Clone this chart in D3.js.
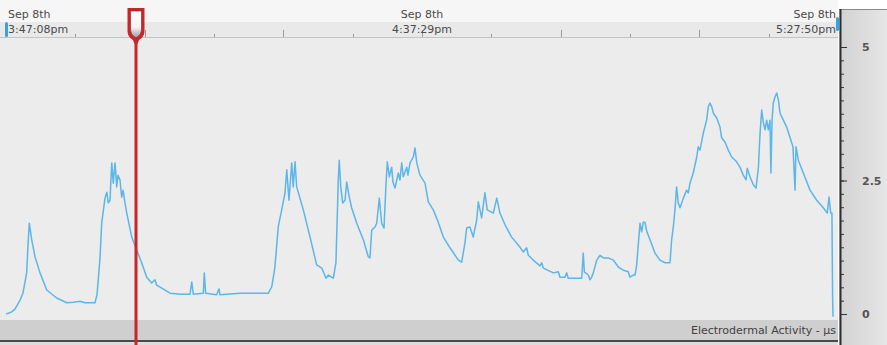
<!DOCTYPE html>
<html>
<head>
<meta charset="utf-8">
<script src="https://cdn.jsdelivr.net/npm/d3@7"></script>
<style>
  html, body { margin: 0; padding: 0; background: #ffffff; }
  svg { display: block; font-family: "DejaVu Sans", Verdana, sans-serif; }
</style>
</head>
<body>
<svg id="chart" width="887" height="345"></svg>
<script>
// Session window (Sep 8th, 3:47:08pm to 5:27:50pm)
const sessionStart = new Date(2014, 8, 8, 15, 47, 8);
const sessionEnd = new Date(2014, 8, 8, 17, 27, 50);

// Electrodermal activity samples: seconds since session start, and value in µS
const elapsedSec = [
  0, 22, 41, 65, 87, 102, 123, 150, 160, 169, 187, 211, 247, 296, 368, 441, 487, 537, 574, 610,
  646, 661, 670, 683, 695, 719, 732, 743, 755, 768, 779, 792, 804, 813, 828, 840, 850, 864, 877, 913,
  949, 985, 1022, 1058, 1082, 1094, 1140, 1191, 1264, 1336, 1349, 1360, 1433, 1440, 1450, 1530, 1547, 1554, 1699, 1808,
  1905, 1930, 1953, 1977, 2002, 2026, 2039, 2055, 2075, 2086, 2099, 2111, 2159, 2208, 2256, 2293, 2324, 2341, 2377, 2396,
  2407, 2413, 2420, 2431, 2445, 2462, 2474, 2493, 2510, 2547, 2595, 2631, 2643, 2656, 2680, 2692, 2711, 2728, 2745, 2760,
  2769, 2784, 2801, 2810, 2825, 2849, 2861, 2874, 2885, 2910, 2919, 2934, 2958, 2970, 2983, 3006, 3043, 3067, 3103, 3139,
  3176, 3224, 3285, 3309, 3333, 3345, 3369, 3393, 3418, 3430, 3454, 3478, 3495, 3539, 3564, 3587, 3624, 3672, 3733, 3757,
  3781, 3793, 3829, 3878, 3890, 3902, 3975, 4011, 4023, 4059, 4072, 4083, 4181, 4192, 4200, 4229, 4241, 4253, 4265, 4290,
  4314, 4338, 4374, 4410, 4447, 4483, 4519, 4531, 4555, 4568, 4580, 4604, 4616, 4628, 4640, 4653, 4677, 4713, 4749, 4786,
  4822, 4834, 4846, 4858, 4870, 4882, 4895, 4919, 4943, 4955, 4967, 4991, 5016, 5027, 5040, 5064, 5088, 5100, 5112, 5125,
  5137, 5161, 5185, 5197, 5221, 5245, 5270, 5306, 5330, 5354, 5374, 5383, 5403, 5427, 5447, 5464, 5476, 5488, 5500, 5512,
  5524, 5536, 5548, 5555, 5563, 5572, 5584, 5597, 5609, 5621, 5645, 5669, 5693, 5715, 5730, 5737, 5754, 5790, 5839, 5887,
  5935, 5964, 5977, 5989, 5998, 6003, 6006
];
const edaValues = [
  0.00, 0.02, 0.04, 0.09, 0.19, 0.26, 0.39, 0.77, 1.29, 1.70, 1.39, 1.07, 0.77, 0.45, 0.30, 0.21, 0.22, 0.24, 0.21, 0.21,
  0.21, 0.36, 0.64, 1.07, 1.70, 2.17, 2.28, 2.08, 2.13, 2.83, 2.45, 2.83, 2.38, 2.60, 2.51, 2.19, 2.32, 2.08, 1.89, 1.44,
  1.20, 0.96, 0.69, 0.58, 0.64, 0.54, 0.47, 0.39, 0.37, 0.37, 0.60, 0.37, 0.39, 0.77, 0.39, 0.36, 0.47, 0.36, 0.39, 0.39,
  0.39, 0.51, 0.88, 1.63, 1.95, 2.27, 2.70, 2.13, 2.83, 2.38, 2.85, 2.38, 1.95, 1.44, 0.92, 0.86, 0.67, 0.73, 0.67, 0.96,
  1.95, 2.51, 2.88, 2.38, 2.08, 2.13, 2.47, 2.19, 1.99, 1.70, 1.39, 1.07, 1.05, 1.57, 1.63, 1.70, 2.17, 1.70, 1.61, 2.45,
  2.85, 2.57, 2.75, 2.47, 2.36, 2.64, 2.51, 2.83, 2.57, 2.75, 2.60, 2.83, 2.94, 3.11, 2.83, 2.60, 2.45, 2.10, 1.95, 1.72,
  1.44, 1.24, 1.01, 0.97, 1.33, 1.61, 1.63, 1.44, 1.76, 2.10, 1.80, 2.27, 1.95, 1.89, 2.17, 1.89, 1.67, 1.44, 1.25, 1.16,
  1.24, 1.10, 1.01, 0.90, 0.96, 0.86, 0.77, 0.79, 0.69, 0.69, 0.77, 0.67, 0.67, 1.14, 0.79, 0.73, 0.64, 0.69, 0.77, 1.01,
  1.10, 1.05, 1.05, 1.01, 0.88, 0.82, 0.79, 0.69, 0.73, 0.73, 0.92, 1.70, 1.54, 1.72, 1.72, 1.55, 1.39, 1.14, 1.01, 0.96,
  0.96, 1.39, 1.63, 1.95, 2.38, 2.08, 1.99, 2.17, 2.32, 2.27, 2.45, 2.64, 2.94, 3.13, 3.07, 3.39, 3.63, 3.88, 3.95, 3.88,
  3.76, 3.67, 3.50, 3.30, 3.22, 3.07, 2.94, 2.85, 2.75, 2.60, 2.51, 2.73, 2.57, 2.42, 2.36, 2.75, 3.39, 3.82, 3.58, 3.45,
  3.63, 3.45, 3.63, 2.64, 3.63, 3.95, 4.06, 4.14, 4.01, 3.76, 3.63, 3.50, 3.31, 3.13, 2.32, 3.13, 2.88, 2.64, 2.32, 2.13,
  1.99, 1.89, 2.19, 1.89, 1.89, 0.26, -0.05
];

// Value axis labels and playhead position
const yMajorTicks = [0, 2.5, 5];
const seriesLabel = "Electrodermal Activity - \u03bcs";
const playheadSec = 944;

const svg = d3.select("#chart");
const W = 887, H = 345;
const plotLeft = 6, plotRight = 838, plotTop = 38, plotBottom = 320;

const x = d3.scaleTime().domain([sessionStart, sessionEnd]).range([plotLeft, plotRight]);
const y = d3.scaleLinear().domain([0, 5]).range([314, 47]);
const atSec = s => new Date(sessionStart.getTime() + s * 1000);

const defs = svg.append("defs");
const panelGrad = defs.append("linearGradient").attr("id", "panelGrad").attr("x1", 0).attr("x2", 1);
panelGrad.append("stop").attr("offset", 0).attr("stop-color", "#d2d2d2");
panelGrad.append("stop").attr("offset", 1).attr("stop-color", "#e6e6e6");
const knobGrad = defs.append("linearGradient").attr("id", "knobGrad").attr("x1", 0).attr("x2", 0).attr("y1", 0).attr("y2", 1);
knobGrad.append("stop").attr("offset", 0).attr("stop-color", "#ffffff");
knobGrad.append("stop").attr("offset", 0.6).attr("stop-color", "#f4f4f4");
knobGrad.append("stop").attr("offset", 1).attr("stop-color", "#9a9a9a");
defs.append("clipPath").attr("id", "plotClip").append("rect")
  .attr("x", plotLeft).attr("y", plotTop).attr("width", plotRight - plotLeft).attr("height", plotBottom - plotTop);

// Background blocks: header, time ruler, plot, footer
svg.append("rect").attr("x", 0).attr("y", 0).attr("width", W).attr("height", H).attr("fill", "#ffffff");
svg.append("rect").attr("x", 0).attr("y", 0).attr("width", plotRight).attr("height", 22).attr("fill", "#f6f6f6");
svg.append("rect").attr("x", 0).attr("y", 22).attr("width", plotRight).attr("height", 16).attr("fill", "#e9e9e9");
svg.append("rect").attr("x", 0).attr("y", plotTop).attr("width", plotRight).attr("height", plotBottom - plotTop).attr("fill", "#ececec");
svg.append("line").attr("x1", 0).attr("x2", plotRight).attr("y1", 37.5).attr("y2", 37.5).attr("stroke", "#c4c4c4");
svg.append("rect").attr("x", 0).attr("y", plotBottom).attr("width", plotRight).attr("height", 20).attr("fill", "#cfcfcf");
svg.append("rect").attr("x", 0).attr("y", 340).attr("width", plotRight).attr("height", 2).attr("fill", "#4a4a4a");
svg.append("rect").attr("x", 0).attr("y", 342).attr("width", plotRight).attr("height", 3).attr("fill", "#dcdcdc");

// Time ruler ticks
const step = (sessionEnd - sessionStart) / 12;
const rulerTicks = d3.range(1, 12).map(i => ({ i, t: new Date(sessionStart.getTime() + i * step) }));
svg.append("g").selectAll("line").data(rulerTicks).join("line")
  .attr("x1", d => Math.round(x(d.t)) + 0.5).attr("x2", d => Math.round(x(d.t)) + 0.5)
  .attr("y1", 37).attr("y2", d => d.i % 2 === 0 ? 30 : 34)
  .attr("stroke", "#9a9a9a").attr("stroke-width", 1);

// Time labels
const fmtDay = d3.timeFormat("%b %-dth");
const fmtTime = d => d3.timeFormat("%-I:%M:%S%p")(d).toLowerCase();
const midTime = new Date((sessionStart.getTime() + sessionEnd.getTime()) / 2);
const timeLabels = [
  { t: sessionStart, anchor: "start", dx: 2 },
  { t: midTime, anchor: "middle", dx: 0 },
  { t: sessionEnd, anchor: "end", dx: -2 }
];
const tl = svg.append("g").attr("fill", "#4a4a4a").attr("font-size", 11);
timeLabels.forEach(d => {
  tl.append("text").attr("x", x(d.t) + d.dx).attr("y", 18).attr("text-anchor", d.anchor).text(fmtDay(d.t));
  tl.append("text").attr("x", x(d.t) + d.dx).attr("y", 33).attr("text-anchor", d.anchor).text(fmtTime(d.t));
});

// Range handles at both ends of the ruler
svg.append("rect").attr("x", 5).attr("y", 22).attr("width", 3).attr("height", 15).attr("rx", 1.5).attr("fill", "#39a2e3");
svg.append("rect").attr("x", 836).attr("y", 17).attr("width", 3).attr("height", 14).attr("rx", 1.5).attr("fill", "#39a2e3");

// EDA trace
const pts = elapsedSec.map((s, i) => [atSec(s), edaValues[i]]);
svg.append("path").datum(pts)
  .attr("clip-path", "url(#plotClip)")
  .attr("fill", "none").attr("stroke", "#5cb6e8").attr("stroke-width", 1.5).attr("stroke-linejoin", "round")
  .attr("d", d3.line().x(d => x(d[0])).y(d => y(d[1])));

// Footer series label
svg.append("text").attr("x", plotRight - 2).attr("y", 334).attr("text-anchor", "end")
  .attr("font-size", 11).attr("fill", "#3f3f3f").text(seriesLabel);

// Right value panel
svg.append("rect").attr("x", 839).attr("y", 9).attr("width", W - 839).attr("height", H - 9).attr("fill", "url(#panelGrad)");
svg.append("line").attr("x1", 839).attr("x2", W).attr("y1", 9.5).attr("y2", 9.5).attr("stroke", "#8a8a8a");
svg.append("line").attr("x1", 840.5).attr("x2", 840.5).attr("y1", 9).attr("y2", H).attr("stroke", "#2e2e2e").attr("stroke-width", 2);

const minorAxis = d3.axisRight(y).tickValues(d3.range(0, 5.01, 0.25)).tickSize(3).tickFormat("");
svg.append("g").attr("transform", "translate(841,0)").call(minorAxis)
  .call(g => g.select(".domain").remove())
  .call(g => g.selectAll("line").attr("stroke", "#333"));
const majorAxis = d3.axisRight(y).tickValues(yMajorTicks).tickSize(6).tickPadding(15).tickFormat(d3.format("~g"));
svg.append("g").attr("transform", "translate(841,0)").call(majorAxis)
  .call(g => g.select(".domain").remove())
  .call(g => g.selectAll("line").attr("stroke", "#333"))
  .call(g => g.selectAll("text").attr("font-size", 11).attr("font-weight", "bold").attr("fill", "#555")
    .attr("font-family", "DejaVu Sans, sans-serif"));

// Playhead
const px = Math.round(x(atSec(playheadSec)));
svg.append("line").attr("x1", px).attr("x2", px).attr("y1", 30).attr("y2", H)
  .attr("stroke", "#c9252b").attr("stroke-width", 3);
const knob = svg.append("g").attr("transform", `translate(${px},0)`);
knob.append("path")
  .attr("d", "M-8.5,8 L8.5,8 L8.5,31 Q8.5,37 3,40 L1.5,44 L-1.5,44 L-3,40 Q-8.5,37 -8.5,31 Z")
  .attr("fill", "#c9252b");
knob.append("path")
  .attr("d", "M-5.5,11 L5.5,11 L5.5,30 Q5.5,35 0,38 Q-5.5,35 -5.5,30 Z")
  .attr("fill", "url(#knobGrad)").attr("stroke", "#8e1a1e").attr("stroke-width", 0.6);
</script>
</body>
</html>
